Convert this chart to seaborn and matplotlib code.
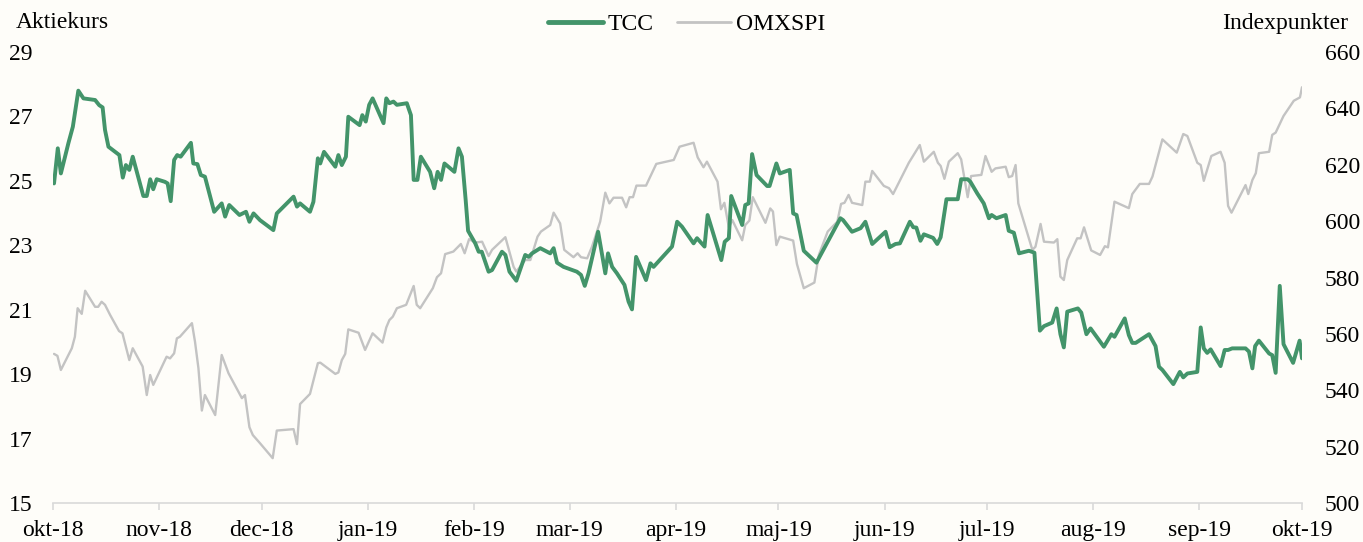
import matplotlib
matplotlib.use("Agg")
import matplotlib.pyplot as plt
import seaborn as sns
import pandas as pd
from matplotlib.lines import Line2D

# ---------------- data ----------------
start_date = "2018-10-01"
end_date = "2019-10-01"

# days after 2018-10-01 and TCC share price (SEK)
tcc_days = [0.3, 1.4, 2.3, 4.5, 5.8, 7.4, 8.9, 12.3, 13.5, 14.5, 15.2, 16.2, 19.4, 20.4, 21.3,
            22.3, 23.3, 26.4, 27.4, 28.4, 29.3, 30.3, 32.7, 33.5, 34.4, 35.4, 36.3, 37.3, 40.3,
            41.0, 42.2, 43.2, 44.4, 47.1, 49.3, 50.3, 51.5, 54.5, 56.4, 57.4, 58.6, 60.5, 64.4,
            65.4, 70.3, 71.3, 72.2, 75.1, 76.1, 77.4, 78.1, 79.2, 82.5, 83.4, 84.4, 85.6, 86.3,
            89.6, 90.4, 91.4, 92.4, 93.4, 96.6, 97.4, 98.3, 99.5, 100.5, 103.4, 104.6, 105.4,
            106.5, 107.5, 110.2, 111.4, 112.4, 113.4, 114.4, 117.3, 118.5, 119.5, 120.6, 121.3,
            123.4, 124.4, 125.3, 127.3, 128.3, 131.2, 132.2, 133.4, 135.4, 138.0, 139.0, 140.0,
            142.4, 145.3, 146.3, 147.3, 149.2, 153.1, 154.3, 155.4, 156.5, 159.3, 160.4, 161.4,
            162.2, 163.4, 164.8, 167.0, 168.2, 169.2, 170.4, 173.3, 174.6, 175.5, 180.9, 182.4,
            183.8, 187.2, 188.2, 190.4, 191.3, 195.3, 196.3, 197.5, 198.2, 201.4, 202.3, 203.3,
            204.3, 205.6, 208.7, 209.4, 211.4, 212.4, 215.3, 216.3, 217.3, 219.4, 223.1, 230.1,
            230.9, 233.5, 236.0, 237.4, 239.4, 243.3, 244.5, 246.2, 247.5, 250.4, 251.4, 252.3,
            253.5, 254.5, 257.2, 258.4, 259.4, 261.1, 264.4, 265.4, 267.3, 268.1, 270.1, 272.0,
            273.5, 274.3, 275.7, 278.4, 279.3, 280.8, 282.3, 285.2, 286.8, 288.4, 289.6, 292.0,
            293.3, 294.4, 295.4, 296.4, 299.5, 300.5, 302.0, 303.2, 307.1, 309.3, 310.2, 313.2,
            314.4, 315.4, 316.4, 320.3, 322.2, 323.2, 324.2, 327.4, 329.3, 330.3, 331.5, 334.4,
            335.4, 336.3, 337.3, 338.3, 341.2, 342.4, 343.4, 344.6, 348.5, 349.5, 350.5, 351.3,
            352.4, 355.4, 356.3, 357.3, 358.5, 359.6, 362.4, 364.3, 365.0]
tcc_values = [24.92, 26.01, 25.23, 26.17, 26.68, 27.80, 27.56, 27.51, 27.35, 27.28, 26.58, 26.06,
              25.80, 25.10, 25.49, 25.34, 25.75, 24.53, 24.53, 25.05, 24.74, 25.05, 24.97, 24.92,
              24.37, 25.65, 25.80, 25.75, 26.18, 25.54, 25.52, 25.18, 25.13, 24.04, 24.30, 23.89,
              24.25, 23.94, 24.04, 23.73, 23.99, 23.78, 23.47, 23.99, 24.51, 24.20, 24.30, 24.04,
              24.35, 25.70, 25.54, 25.90, 25.44, 25.80, 25.49, 25.75, 26.99, 26.73, 27.04, 26.84,
              27.36, 27.56, 26.79, 27.56, 27.41, 27.46, 27.36, 27.41, 27.04, 25.03, 25.03, 25.75,
              25.28, 24.77, 25.28, 25.03, 25.54, 25.28, 26.01, 25.75, 24.40, 23.45, 23.06, 22.80,
              22.80, 22.18, 22.23, 22.80, 22.70, 22.18, 21.90, 22.70, 22.64, 22.75, 22.91, 22.75,
              22.91, 22.46, 22.33, 22.18, 22.08, 21.74, 22.13, 23.42, 22.75, 22.13, 22.75, 22.33,
              22.13, 21.77, 21.25, 21.01, 22.64, 21.92, 22.44, 22.33, 22.96, 23.73, 23.58, 23.06,
              23.22, 22.96, 23.94, 22.54, 23.11, 23.22, 24.53, 23.63, 24.25, 24.30, 25.83, 25.18,
              24.84, 24.84, 25.54, 25.23, 25.34, 23.99, 23.94, 22.83, 22.46, 23.84, 23.78, 23.42,
              23.53, 23.73, 23.04, 23.42, 22.94, 23.04, 23.06, 23.73, 23.56, 23.55, 23.14, 23.34,
              23.23, 23.04, 23.25, 24.43, 24.43, 25.05, 25.05, 24.97, 24.61, 24.30, 23.84, 23.94,
              23.84, 23.94, 23.45, 23.39, 22.75, 22.83, 22.77, 20.35, 20.49, 20.60, 21.04, 20.24,
              19.83, 20.94, 21.04, 20.91, 20.24, 20.42, 19.85, 20.24, 20.16, 20.73, 20.21, 19.97,
              19.97, 20.24, 19.87, 19.23, 19.13, 18.69, 19.07, 18.90, 19.02, 19.07, 20.45, 19.80,
              19.66, 19.77, 19.25, 19.75, 19.75, 19.80, 19.80, 19.70, 19.18, 19.87, 20.04, 19.64,
              19.59, 19.04, 21.74, 19.93, 19.35, 20.04, 19.49]

# days after 2018-10-01 and OMXSPI index points
omx_days = [0.3, 1.3, 2.3, 5.5, 6.4, 7.2, 8.4, 9.4, 12.3, 13.2, 14.2, 15.2, 16.7, 19.3, 20.3,
            22.3, 23.3, 26.2, 27.4, 28.4, 29.3, 33.2, 34.2, 35.4, 36.2, 37.1, 40.6, 41.5, 42.5,
            43.5, 44.4, 47.4, 49.3, 51.3, 55.2, 56.1, 57.4, 58.4, 60.5, 64.2, 65.4, 70.3, 71.3,
            72.2, 75.1, 77.4, 78.1, 82.5, 83.4, 84.4, 85.4, 86.3, 89.3, 91.2, 93.4, 96.3, 97.4,
            98.3, 99.3, 100.5, 103.2, 105.4, 106.3, 107.3, 111.0, 112.2, 113.4, 114.6, 117.0,
            119.2, 120.3, 121.6, 123.4, 125.4, 127.3, 128.3, 132.2, 134.6, 135.4, 138.0, 139.5,
            141.6, 142.6, 145.3, 146.3, 148.2, 149.4, 152.1, 153.3, 154.3, 156.1, 157.5, 159.9,
            161.4, 162.6, 163.8, 166.3, 167.5, 168.5, 169.5, 170.5, 173.3, 176.3, 181.4, 183.1,
            187.2, 188.4, 190.1, 191.1, 194.2, 195.2, 196.2, 197.5, 198.5, 201.4, 202.3, 203.5,
            204.5, 208.2, 209.6, 210.4, 211.4, 212.4, 216.3, 217.4, 219.4, 222.5, 223.8, 226.4,
            229.2, 230.3, 231.3, 232.5, 233.5, 236.5, 237.4, 238.7, 239.4, 242.8, 244.3, 245.5,
            250.1, 253.3, 254.5, 257.4, 258.6, 259.4, 260.5, 261.8, 264.4, 265.4, 267.3, 268.3,
            271.3, 272.5, 274.3, 275.4, 278.4, 279.3, 280.3, 281.3, 282.1, 286.2, 287.1, 288.6,
            289.6, 292.5, 293.5, 294.4, 295.4, 296.4, 299.3, 300.3, 301.3, 303.4, 306.0, 307.4,
            308.3, 310.2, 314.4, 315.4, 317.6, 320.3, 321.3, 324.2, 328.4, 330.3, 331.5, 334.4,
            335.4, 336.3, 338.5, 341.2, 342.4, 343.4, 344.4, 348.5, 349.3, 350.5, 351.5, 352.4,
            355.4, 356.3, 357.3, 359.6, 362.6, 364.4, 365.0]
omx_values = [552.9, 552.2, 547.2, 554.9, 559.0, 569.1, 567.1, 575.3, 569.6, 569.6, 571.4, 570.3,
              566.7, 561.0, 560.2, 550.7, 554.9, 548.4, 538.3, 545.4, 541.9, 551.9, 551.3, 553.1,
              558.4, 559.0, 563.8, 557.2, 547.8, 532.8, 538.3, 531.2, 552.5, 546.0, 537.2, 538.3,
              526.9, 524.1, 521.2, 515.9, 525.7, 526.2, 520.9, 535.1, 538.7, 549.6, 549.8, 545.8,
              546.3, 550.7, 552.9, 561.6, 560.4, 554.3, 560.2, 556.9, 562.3, 564.9, 566.1, 569.1,
              570.3, 577.0, 570.3, 569.1, 576.2, 580.1, 581.5, 588.3, 589.2, 591.9, 588.6, 593.6,
              592.4, 592.7, 587.6, 589.8, 594.3, 583.8, 582.1, 586.2, 586.2, 594.5, 596.3, 598.6,
              603.0, 599.2, 589.8, 587.2, 588.6, 587.2, 586.8, 590.9, 599.8, 610.1, 606.3, 608.3,
              608.3, 604.9, 608.5, 608.5, 612.6, 612.6, 620.3, 621.7, 626.4, 627.8, 622.6, 619.1,
              621.1, 614.0, 604.2, 606.5, 597.8, 600.4, 593.2, 598.6, 600.2, 608.5, 599.4, 604.5,
              603.4, 591.5, 594.5, 593.1, 584.8, 576.2, 578.2, 588.0, 596.3, 599.8, 606.1, 606.5,
              609.3, 606.5, 605.7, 614.0, 614.0, 617.8, 612.5, 611.7, 609.6, 620.7, 627.0, 621.1,
              624.6, 620.7, 619.6, 615.0, 621.1, 624.1, 621.9, 608.5, 616.0, 616.4, 623.1, 617.5,
              618.7, 619.3, 615.6, 616.0, 619.9, 606.3, 589.8, 590.9, 599.0, 592.7, 592.4, 593.6,
              580.3, 579.1, 586.2, 593.9, 593.9, 597.8, 589.6, 588.0, 591.1, 590.7, 606.9, 604.6,
              609.6, 613.2, 613.2, 615.8, 629.0, 624.3, 630.9, 630.2, 620.7, 619.9, 614.3, 623.1,
              624.6, 620.7, 605.4, 603.0, 612.8, 609.6, 614.6, 617.0, 624.1, 624.6, 630.6, 631.4,
              637.3, 642.7, 643.9, 647.5]

month_labels = ["okt-18", "nov-18", "dec-18", "jan-19", "feb-19", "mar-19", "apr-19",
                "maj-19", "jun-19", "jul-19", "aug-19", "sep-19", "okt-19"]
left_ticks = [15, 17, 19, 21, 23, 25, 27, 29]
right_ticks = [500, 520, 540, 560, 580, 600, 620, 640, 660]
series_names = ["TCC", "OMXSPI"]

# ---------------- build frames ----------------
t0 = pd.Timestamp(start_date)
tcc_df = pd.DataFrame({"date": t0 + pd.to_timedelta(tcc_days, unit="D"), "value": tcc_values})
omx_df = pd.DataFrame({"date": t0 + pd.to_timedelta(omx_days, unit="D"), "value": omx_values})

# ---------------- style ----------------
sns.set_theme(style="white")
plt.rcParams["font.family"] = ["Liberation Serif", "DejaVu Serif"]
plt.rcParams["text.color"] = "black"
bg = "#FEFDF9"
green = "#43946A"
grey = "#C3C3C3"
axis_grey = "#D9D9D9"
fs = 17

fig = plt.figure(figsize=(13.63, 5.42), dpi=100, facecolor=bg)
W, H = 1363, 542
ax = fig.add_axes([53 / W, (H - 503) / H, (1302 - 53) / W, (503 - 52) / H])
ax2 = ax.twinx()

sns.lineplot(data=omx_df, x="date", y="value", ax=ax2, color=grey, linewidth=1.7,
             estimator=None, sort=False)
sns.lineplot(data=tcc_df, x="date", y="value", ax=ax, color=green, linewidth=2.8,
             estimator=None, sort=False)

ax.set_zorder(ax2.get_zorder() + 1)
ax.patch.set_visible(False)
ax2.patch.set_visible(False)

month_ticks = pd.date_range(start_date, end_date, freq="MS")
ax.set_xlim(pd.Timestamp(start_date), pd.Timestamp(end_date))
ax.set_xticks(month_ticks)
ax.set_xticklabels(month_labels)

ax.set_ylim(15, 29)
ax.set_yticks(left_ticks)
ax.set_yticklabels([str(v) for v in left_ticks])
ax2.set_ylim(500, 660)
ax2.set_yticks(right_ticks)
ax2.set_yticklabels([str(v) for v in right_ticks])

for a in (ax, ax2):
    a.set_xlabel("")
    a.set_ylabel("")
    for s in a.spines.values():
        s.set_visible(False)
    a.grid(False)
ax.spines["bottom"].set_visible(True)
ax.spines["bottom"].set_color(axis_grey)
ax.spines["bottom"].set_linewidth(1.2)

ax.tick_params(axis="x", bottom=True, length=5, width=1.2, color=axis_grey,
               labelsize=fs, labelcolor="black", pad=7)
ax.tick_params(axis="y", left=True, length=0, labelsize=fs, labelcolor="black", pad=15)
ax2.tick_params(axis="y", right=True, length=0, labelsize=fs, labelcolor="black", pad=16.5)

fig.text(16 / W, 1 - 23 / H, "Aktiekurs", ha="left", va="center", fontsize=fs, color="black")
fig.text(1348 / W, 1 - 23 / H, "Indexpunkter", ha="right", va="center", fontsize=fs,
         color="black")

handles = [Line2D([0], [0], color=green, linewidth=3.5),
           Line2D([0], [0], color=grey, linewidth=2.0)]
leg = fig.legend(handles, series_names, loc="center", bbox_to_anchor=(687 / W, 1 - 24 / H),
                 ncol=2, frameon=False, fontsize=fs, handlelength=2.3, handletextpad=0.2,
                 columnspacing=1.0, borderaxespad=0, borderpad=0)
for t in leg.get_texts():
    t.set_color("black")

fig.savefig("out.png", dpi=100, facecolor=bg)
